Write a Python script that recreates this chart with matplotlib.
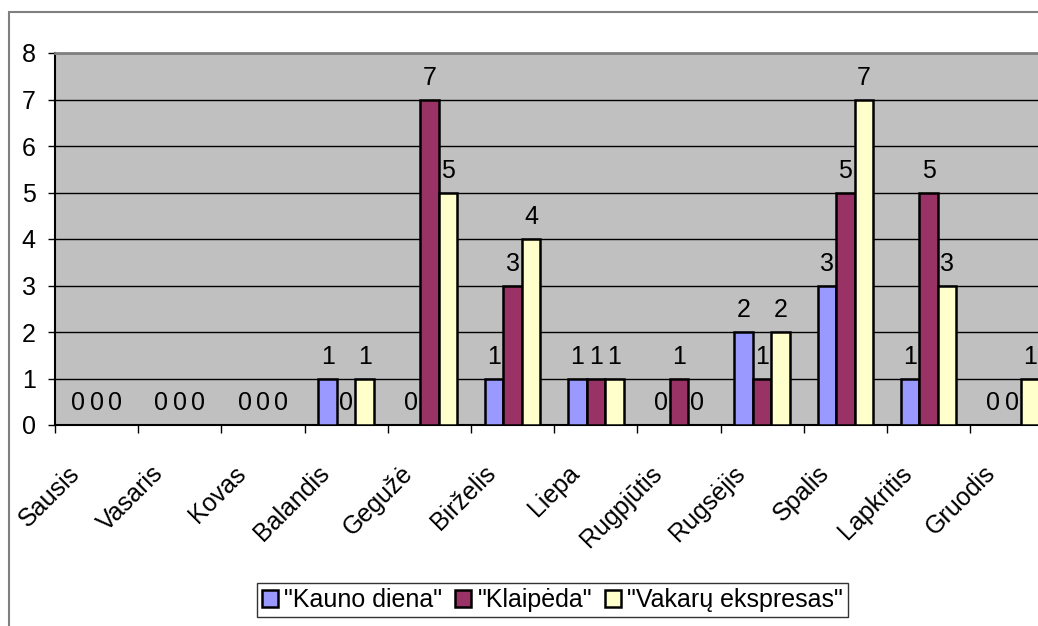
import numpy as np
import matplotlib.pyplot as plt
from matplotlib.patches import Rectangle
from matplotlib.transforms import ScaledTranslation

plt.rcParams['font.family'] = ['Liberation Sans', 'DejaVu Sans']

months = ['Sausis', 'Vasaris', 'Kovas', 'Balandis', 'Gegužė', 'Birželis',
          'Liepa', 'Rugpjūtis', 'Rugsėjis', 'Spalis', 'Lapkritis', 'Gruodis']
series_names = ['"Kauno diena"', '"Klaipėda"', '"Vakarų ekspresas"']
kauno_diena = [0, 0, 0, 1, 0, 1, 1, 0, 2, 3, 1, 0]
klaipeda = [0, 0, 0, 0, 7, 3, 1, 1, 1, 5, 5, 0]
vakaru_ekspresas = [0, 0, 0, 1, 5, 4, 1, 0, 2, 7, 3, 1]
colors = ['#9999FF', '#993366', '#FFFFCC']

fig = plt.figure(figsize=(10.38, 6.26), dpi=100)
# plot area runs past the right edge, like the cropped original
ax = fig.add_axes([55/1038, 1-425/626, 998.4/1038, 372/626])
ax.set_facecolor('#C0C0C0')

# outer chart frame (also cut off on right/bottom)
fig.patches.append(Rectangle((9/1038, -0.2), 1.3, 0.2 + 1-12/626, transform=fig.transFigure,
                             fill=False, edgecolor='#808080', linewidth=1.5, clip_on=False))

x = np.arange(len(months))
w = 1/4.5
for j, (vals, name, c) in enumerate(zip([kauno_diena, klaipeda, vakaru_ekspresas], series_names, colors)):
    bars = ax.bar(x + (j-1)*w, vals, w, color=c, edgecolor='black', linewidth=1.8,
                  label=name, zorder=3)
    ax.bar_label(bars, padding=7, fontsize=18)

ax.set_xlim(-0.5, 11.5)
ax.set_ylim(0, 8)
ax.set_yticks(range(9))
ax.yaxis.grid(True, color='black', linewidth=1)
ax.set_axisbelow(True)

ax.set_xticks(np.arange(-0.5, 12, 1))
ax.set_xticklabels([])
ax.set_xticks(x, minor=True)
ax.set_xticklabels(months, minor=True, rotation=45, ha='right', va='top', fontsize=18)
ax.tick_params(axis='x', which='major', direction='out', length=6, width=1)
ax.tick_params(axis='x', which='minor', length=0, pad=26)
ax.tick_params(axis='y', direction='out', length=5, width=1, labelsize=18, pad=9)
for lbl in ax.get_xticklabels(minor=True):
    lbl.set_transform(lbl.get_transform() + ScaledTranslation(-0.12, 0, fig.dpi_scale_trans))

ax.spines['top'].set_color('#808080')
ax.spines['top'].set_linewidth(2)
ax.spines['right'].set_visible(False)
ax.spines['left'].set_linewidth(1.5)
ax.spines['bottom'].set_linewidth(1.5)

leg = fig.legend(loc='upper left', bbox_to_anchor=(257/1038, 1-583/626), ncol=3,
                 fontsize=18, frameon=True, fancybox=False, edgecolor='black',
                 handlelength=0.65, handleheight=0.65, handletextpad=0.25,
                 columnspacing=0.5, borderpad=0.2, borderaxespad=0)
leg.get_frame().set_linewidth(1)

fig.savefig('out.png', dpi=100)
